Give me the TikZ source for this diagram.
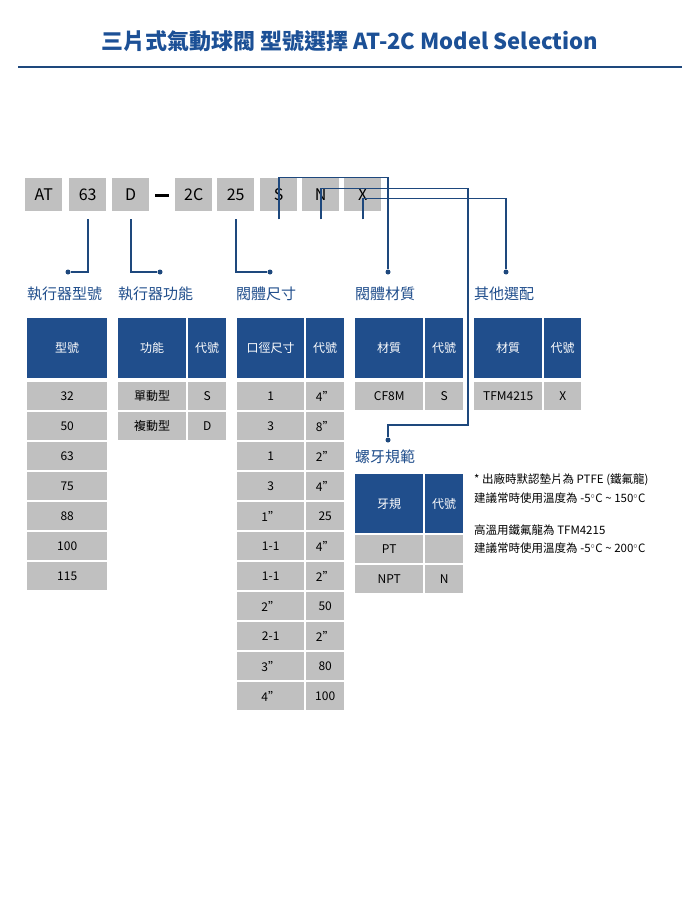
\documentclass[tikz,border=0pt]{standalone}
\usepackage{fontspec}
\setmainfont{Noto Sans CJK TC}
\begin{document}
\begin{tikzpicture}[x=1pt,y=-1pt,
 hcell/.style={fill=hblue,text=white,inner sep=0pt,anchor=north west,font=\fontsize{12}{12}\selectfont},
 gcell/.style={fill=cgray,text=black,inner sep=0pt,anchor=north west,font=\fontsize{12}{12}\selectfont},
 cbox/.style={fill=cgray,inner sep=0pt,anchor=north west,minimum height=33pt,font=\fontsize{16}{16}\selectfont},
 lab/.style={anchor=west,inner sep=0pt,font=\fontsize{15}{15}\selectfont,text=hblue},
 con/.style={draw=lblue,line width=1.8pt},
 dotc/.style={fill=lblue,circle,inner sep=0pt,minimum size=5pt},
 note/.style={anchor=west,inner sep=0pt,font=\fontsize{11.5}{11.5}\selectfont,text=black}]
\definecolor{hblue}{RGB}{32,78,140}
\definecolor{lblue}{RGB}{30,72,125}
\definecolor{cgray}{RGB}{192,192,192}
\definecolor{tblue}{RGB}{28,80,150}
\useasboundingbox[fill=white] (0,0) rectangle (700,899);
\node[text=tblue,font=\fontsize{22}{22}\selectfont\bfseries] (title) at (350,41) {三片式氣動球閥 型號選擇 AT-2C Model Selection};
\draw[lblue,line width=2.5pt] (18,67) -- (682,67);
% code boxes
\node[cbox,minimum width=37pt] (cAT) at (25,178) {AT};
\node[cbox,minimum width=37pt] (c63) at (69,178) {63};
\node[cbox,minimum width=37pt] (cD) at (112,178) {D};
\node[fill=black,inner sep=0pt,minimum width=14pt,minimum height=3pt] (dash) at (162,195) {};
\node[cbox,minimum width=37pt] (c2C) at (175,178) {2C};
\node[cbox,minimum width=37pt] (c25) at (217,178) {25};
\node[cbox,minimum width=37pt] (cS) at (260,178) {S};
\node[cbox,minimum width=37pt] (cN) at (302,178) {N};
\node[cbox,minimum width=37pt] (cX) at (344,178) {X};
% dots
\node[dotc] (d1) at (68,272) {};
\node[dotc] (d2) at (160,272) {};
\node[dotc] (d3) at (270,272) {};
\node[dotc] (d4) at (388,272) {};
\node[dotc] (d5) at (506,272) {};
\node[dotc] (d6) at (388,440) {};
\draw[con] ([yshift=-8pt]c63.south) |- (d1);
\draw[con] ([yshift=-8pt]cD.south) |- (d2);
\draw[con] ([yshift=-8pt]c25.south) |- (d3);
\draw[con] ([yshift=-8pt]cS.south) -- ++(0,-42) -| (d4);
\draw[con] ([yshift=-8pt]cN.south) -- ++(0,-31) -| (468,425) -| (d6);
\draw[con] ([yshift=-8pt]cX.south) -- ++(0,-21) -| (d5);
% labels
\node[lab] (l1) at (27,294) {執行器型號};
\node[lab] (l2) at (118,294) {執行器功能};
\node[lab] (l3) at (236,294) {閥體尺寸};
\node[lab] (l4) at (355,294) {閥體材質};
\node[lab] (l5) at (474,294) {其他選配};
\node[lab] (l6) at (355,457) {螺牙規範};
% table 1
\node[hcell,minimum width=80pt,minimum height=60pt] (h1) at (27,318) {型號};
\foreach \t [count=\i] in {32,50,63,75,88,100,115}
  \node[gcell,minimum width=80pt,minimum height=28pt] (t1r\i) at (27,352+30*\i) {\t};
% table 2
\node[hcell,minimum width=68pt,minimum height=60pt] (h2a) at (118,318) {功能};
\node[hcell,minimum width=38pt,minimum height=60pt] (h2b) at (188,318) {代號};
\foreach \a/\b [count=\i] in {單動型/S,複動型/D}{
  \node[gcell,minimum width=68pt,minimum height=28pt] (t2a\i) at (118,352+30*\i) {\a};
  \node[gcell,minimum width=38pt,minimum height=28pt] (t2b\i) at (188,352+30*\i) {\b};}
% table 3
\node[hcell,minimum width=67pt,minimum height=60pt] (h3a) at (237,318) {口徑尺寸};
\node[hcell,minimum width=38pt,minimum height=60pt] (h3b) at (306,318) {代號};
\foreach \a/\b [count=\i] in {1/4"/08,3/8"/10,1/2"/15,3/4"/20,1"/25,1-1/4"/32,1-1/2"/40,2"/50,2-1/2"/65,3"/80,4"/100}{
  \node[gcell,minimum width=67pt,minimum height=28pt] (t3a\i) at (237,352+30*\i) {\a};
  \node[gcell,minimum width=38pt,minimum height=28pt] (t3b\i) at (306,352+30*\i) {\b};}
% table 4
\node[hcell,minimum width=68pt,minimum height=60pt] (h4a) at (355,318) {材質};
\node[hcell,minimum width=38pt,minimum height=60pt] (h4b) at (425,318) {代號};
\node[gcell,minimum width=68pt,minimum height=28pt] (t4a) at (355,382) {CF8M};
\node[gcell,minimum width=38pt,minimum height=28pt] (t4b) at (425,382) {S};
% table 5
\node[hcell,minimum width=68pt,minimum height=60pt] (h5a) at (474,318) {材質};
\node[hcell,minimum width=37pt,minimum height=60pt] (h5b) at (544,318) {代號};
\node[gcell,minimum width=68pt,minimum height=28pt] (t5a) at (474,382) {TFM4215};
\node[gcell,minimum width=37pt,minimum height=28pt] (t5b) at (544,382) {X};
% table 6
\node[hcell,minimum width=68pt,minimum height=59pt] (h6a) at (355,474) {牙規};
\node[hcell,minimum width=38pt,minimum height=59pt] (h6b) at (425,474) {代號};
\node[gcell,minimum width=68pt,minimum height=28pt] (t6a1) at (355,535) {PT};
\node[gcell,minimum width=38pt,minimum height=28pt] (t6b1) at (425,535) {};
\node[gcell,minimum width=68pt,minimum height=28pt] (t6a2) at (355,565) {NPT};
\node[gcell,minimum width=38pt,minimum height=28pt] (t6b2) at (425,565) {N};
% notes
\node[note] (n1) at (474,480) {* 出廠時默認墊片為 PTFE (鐵氟龍)};
\node[note] (n2) at (474,498) {建議常時使用溫度為 -5$^\circ$C \textasciitilde{} 150$^\circ$C};
\node[note] (n3) at (474,530) {高溫用鐵氟龍為 TFM4215};
\node[note] (n4) at (474,548) {建議常時使用溫度為 -5$^\circ$C \textasciitilde{} 200$^\circ$C};
\end{tikzpicture}
\end{document}
